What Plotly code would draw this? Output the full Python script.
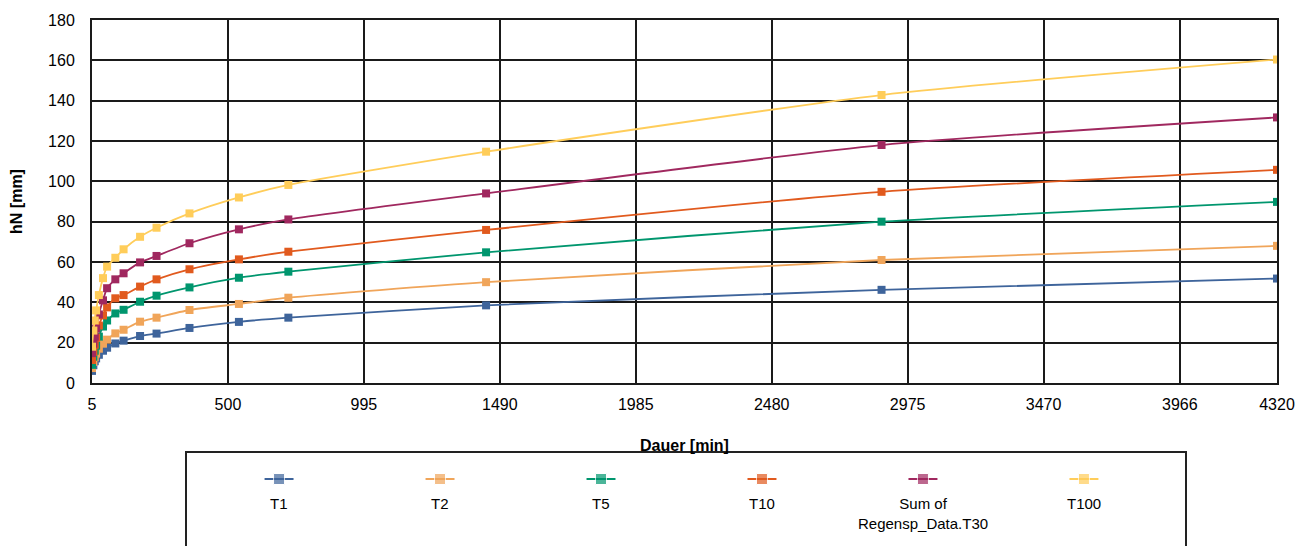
import plotly.graph_objects as go

durations = [5, 10, 15, 20, 30, 45, 60, 90, 120, 180, 240, 360, 540, 720, 1440, 2880, 4320]
T1 = [6.0, 8.8, 10.8, 12.2, 14.0, 16.0, 17.5, 19.6, 21.0, 23.3, 24.5, 27.3, 30.3, 32.4, 38.5, 46.2, 51.8]
T2 = [7.4, 10.5, 12.8, 14.6, 17.0, 19.5, 21.5, 24.6, 26.4, 30.4, 32.4, 36.2, 39.2, 42.3, 50.0, 61.0, 68.0]
T5 = [9.0, 13.0, 16.0, 18.5, 23.0, 28.0, 31.0, 34.5, 36.3, 40.3, 43.3, 47.4, 52.2, 55.2, 64.8, 80.0, 89.8]
T10 = [11.4, 15.5, 19.0, 22.5, 28.5, 33.5, 37.5, 42.0, 43.6, 47.8, 51.4, 56.4, 61.3, 65.1, 75.9, 94.8, 105.7]
T30 = [14.8, 19.5, 23.0, 27.0, 34.0, 41.0, 47.0, 51.4, 54.4, 59.8, 63.0, 69.3, 76.2, 81.1, 94.0, 118.0, 131.7]
T100 = [18.0, 26.0, 31.0, 36.0, 43.6, 52.0, 57.7, 62.1, 66.3, 72.5, 77.0, 84.1, 92.0, 98.2, 114.7, 142.8, 160.4]

series_names = ["T1", "T2", "T5", "T10", "Sum of<br>Regensp_Data.T30", "T100"]
series_values = [T1, T2, T5, T10, T30, T100]
colors = ["#3E649B", "#F0A55A", "#00966E", "#E15A1E", "#A0285F", "#FFCD5A"]

x_ticks = [5, 500, 995, 1490, 1985, 2480, 2975, 3470, 3966, 4320]
y_ticks = list(range(0, 181, 20))

FONT = "Liberation Sans, Arial, sans-serif"

fig = go.Figure()
for name, vals, col in zip(series_names, series_values, colors):
    fig.add_trace(go.Scatter(
        x=durations, y=vals, name=name, mode="lines+markers",
        line=dict(color=col, width=1.8, shape="spline", smoothing=0.6),
        marker=dict(symbol="square", size=8, color=col),
        showlegend=False, xaxis="x", yaxis="y",
    ))

# custom legend: marker above text, as in the reference
for i, (name, col) in enumerate(zip(series_names, colors)):
    fig.add_trace(go.Scatter(
        x=[i - 0.09, i, i + 0.09], y=[67, 67, 67], mode="lines+markers",
        line=dict(color=col, width=2),
        marker=dict(symbol="square", size=[0, 11, 0], color=col),
        showlegend=False, hoverinfo="skip", xaxis="x2", yaxis="y2",
    ))
    fig.add_annotation(
        x=i, y=53, xref="x2", yref="y2", text=name, showarrow=False,
        yanchor="top", xanchor="center", align="center",
        font=dict(family=FONT, size=15, color="#000000"),
    )

grid_col = "#1a1a1a"
fig.update_layout(
    width=1304, height=538,
    margin=dict(l=84, r=35, t=12, b=0, autoexpand=False),
    paper_bgcolor="white", plot_bgcolor="white",
    font=dict(family=FONT, size=16, color="#000000"),
    xaxis=dict(
        domain=[0, 1], anchor="y", automargin=False,
        range=[5, 4320], tickvals=x_ticks, ticktext=[str(v) for v in x_ticks],
        showgrid=True, gridcolor=grid_col, gridwidth=2,
        showline=True, linecolor=grid_col, linewidth=2, mirror=True,
        zeroline=False, ticks="", ticklabelstandoff=6,
        tickfont=dict(family=FONT, size=16, color="#000000"),
        title=dict(text="<b>Dauer [min]</b>", standoff=28,
                   font=dict(family=FONT, size=16, color="#000000")),
    ),
    yaxis=dict(
        domain=[163 / 526, 1], anchor="x", automargin=False,
        range=[0, 180], tickvals=y_ticks,
        showgrid=True, gridcolor=grid_col, gridwidth=2,
        showline=True, linecolor=grid_col, linewidth=2, mirror=True,
        zeroline=False, ticks="", ticklabelstandoff=12,
        tickfont=dict(family=FONT, size=16, color="#000000"),
        title=dict(text="<b>hN [mm]</b>", standoff=22,
                   font=dict(family=FONT, size=16, color="#000000")),
    ),
    xaxis2=dict(
        domain=[(186 - 92) / 1185, (1186 - 92) / 1185], anchor="y2",
        range=[-0.578, 5.634], visible=False, fixedrange=True,
    ),
    yaxis2=dict(
        domain=[0, 94 / 526], anchor="x2",
        range=[0, 94], visible=False, fixedrange=True,
    ),
)

fig.add_shape(
    type="rect", xref="paper", yref="paper",
    x0=(186 - 92) / 1185, x1=(1186 - 92) / 1185, y0=-0.02, y1=94 / 526,
    line=dict(color="#222222", width=2), fillcolor="rgba(0,0,0,0)", layer="below",
)

fig.write_html("out.html")
